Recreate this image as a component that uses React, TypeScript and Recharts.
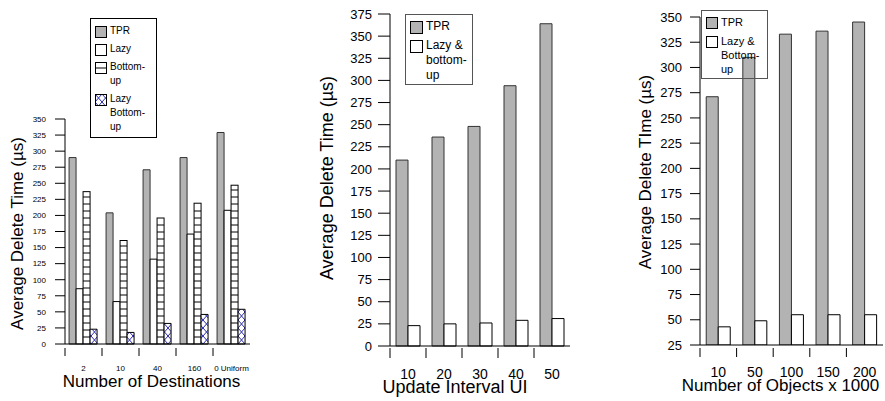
import { BarChart, Bar, XAxis, YAxis, Legend, Label } from "recharts";

const FONT = '"Liberation Sans", Arial, sans-serif';
const TPR_FILL = "#b3b3b3";

// left: number of destinations
const destinations = ["2", "10", "40", "160", "0 Uniform"];
const destTpr = [290, 204, 271, 290, 329];
const destLazy = [86, 66, 132, 171, 208];
const destBottomUp = [237, 161, 196, 219, 247];
const destLazyBottomUp = [23, 18, 32, 46, 54];
const destTicks = [0, 25, 50, 75, 100, 125, 150, 175, 200, 225, 250, 275, 300, 325, 350];

// middle: update interval
const intervals = ["10", "20", "30", "40", "50"];
const intervalTpr = [210, 236, 248, 294, 364];
const intervalLazyBu = [23, 25, 26, 29, 31];
const intervalTicks = [0, 25, 50, 75, 100, 125, 150, 175, 200, 225, 250, 275, 300, 325, 350, 375];

// right: number of objects
const objects = ["10", "50", "100", "150", "200"];
const objectTpr = [271, 310, 333, 336, 345];
const objectLazyBu = [43, 49, 55, 55, 55];
const objectTicks = [25, 50, 75, 100, 125, 150, 175, 200, 225, 250, 275, 300, 325, 350];

const destData = destinations.map((name, i) => ({
  name,
  tpr: destTpr[i],
  lazy: destLazy[i],
  bottomUp: destBottomUp[i],
  lazyBottomUp: destLazyBottomUp[i],
}));
const intervalData = intervals.map((name, i) => ({ name, tpr: intervalTpr[i], lazyBu: intervalLazyBu[i] }));
const objectData = objects.map((name, i) => ({ name, tpr: objectTpr[i], lazyBu: objectLazyBu[i] }));

const destOrder = ["tpr", "lazy", "bottomUp", "lazyBottomUp"];
const pairOrder = ["tpr", "lazyBu"];

function BoundaryTick(props: any) {
  const { x, y, payload, markTop, markBottom, labelDy, size } = props;
  const half = payload.offset ?? props.width / props.visibleTicksCount / 2;
  const left = x - half;
  return (
    <g>
      <line x1={left} x2={left} y1={y + markTop} y2={y + markBottom} stroke="#000" />
      <text x={x} y={y + labelDy} textAnchor="middle" fontSize={size} fill="#000">
        {payload.value}
      </text>
    </g>
  );
}

function LadderBar(props: any) {
  const { x, y, width, height } = props;
  const bottom = y + height;
  const rungs: number[] = [];
  for (let r = bottom - 7; r > y + 2; r -= 7) rungs.push(r);
  return (
    <g>
      <rect x={x} y={y} width={width} height={height} fill="#fff" stroke="#000" />
      {rungs.map((r) => (
        <line key={r} x1={x} x2={x + width} y1={r} y2={r} stroke="#000" />
      ))}
    </g>
  );
}

function LegendBox({ payload, order, box, size, lh, gap, sw }: any) {
  const items = [...(payload || [])].sort((a: any, b: any) => order.indexOf(a.dataKey) - order.indexOf(b.dataKey));
  return (
    <div
      style={{
        width: box.w,
        height: box.h,
        boxSizing: "border-box",
        border: `1px solid ${box.border}`,
        padding: `${box.pt}px 0 0 ${box.pl}px`,
        fontSize: size,
        lineHeight: `${lh}px`,
        color: "#000",
        fontFamily: FONT,
      }}
    >
      {items.map((e: any) => (
        <div key={e.value} style={{ display: "flex", alignItems: "flex-start", marginBottom: gap }}>
          <svg width={sw + 1} height={sw + 1} style={{ marginTop: (lh - sw) / 2, marginRight: 3, flex: "none" }}>
            <rect x={0.5} y={0.5} width={sw} height={sw} fill={e.color} stroke="#000" />
            {e.dataKey === "bottomUp" && <line x1={0.5} x2={sw + 0.5} y1={sw / 2 + 0.5} y2={sw / 2 + 0.5} stroke="#000" />}
          </svg>
          <div style={{ whiteSpace: "pre" }}>
            {String(e.value).replace(/-/g, "-\n").replace(/ (?!&)/g, "\n")}
          </div>
        </div>
      ))}
    </div>
  );
}

const axisStyle = { stroke: "#000" };

function DestinationsChart() {
  return (
    <BarChart
      width={260}
      height={401}
      data={destData}
      margin={{ top: 119, right: 10, left: 35, bottom: 12 }}
      barCategoryGap="11%"
      barGap={0}
    >
      <defs>
        <pattern id="xhatch" patternUnits="userSpaceOnUse" width={7} height={8}>
          <rect width={7} height={8} fill="#fff" />
          <path d="M0 0 L7 8 M7 0 L0 8" stroke="#2a2ab0" strokeWidth={1} />
        </pattern>
      </defs>
      <XAxis
        dataKey="name"
        height={45}
        axisLine={axisStyle}
        tickLine={false}
        tickSize={0}
        tickMargin={0}
        interval={0}
        tick={<BoundaryTick markTop={4} markBottom={12} labelDy={27} size={8} />}
      >
        <Label value="Number of Destinations" position="center" dx={-6} dy={14} fontSize={17} fill="#000" />
      </XAxis>
      <YAxis
        width={30}
        domain={[0, 350]}
        ticks={destTicks}
        interval={0}
        tickSize={10}
        tickMargin={9}
        axisLine={axisStyle}
        tickLine={axisStyle}
        tick={{ fontSize: 8, fill: "#000" }}
      >
        <Label value="Average Delete Time (µs)" angle={-90} position="center" dx={-33} dy={2} fontSize={17} fill="#000" />
      </YAxis>
      <Legend
        layout="vertical"
        align="center"
        verticalAlign="middle"
        wrapperStyle={{ left: 90, top: 18, width: 67 }}
        content={(p: any) => (
          <LegendBox
            payload={p.payload}
            order={destOrder}
            box={{ w: 67, h: 120, border: "#000", pt: 5, pl: 4 }}
            size={10}
            lh={14}
            gap={4}
            sw={11}
          />
        )}
      />
      <Bar dataKey="tpr" name="TPR" fill={TPR_FILL} stroke="#333" isAnimationActive={false} />
      <Bar dataKey="lazy" name="Lazy" fill="#fff" stroke="#000" isAnimationActive={false} />
      <Bar dataKey="bottomUp" name="Bottom-up" fill="#fff" stroke="#000" shape={<LadderBar />} isAnimationActive={false} />
      <Bar dataKey="lazyBottomUp" name="Lazy Bottom-up" fill="url(#xhatch)" stroke="#000" isAnimationActive={false} />
    </BarChart>
  );
}

function IntervalChart() {
  return (
    <BarChart
      width={290}
      height={401}
      data={intervalData}
      margin={{ top: 14, right: 10, left: 60, bottom: 15 }}
      barCategoryGap="16.7%"
      barGap={0}
    >
      <XAxis
        dataKey="name"
        height={40}
        axisLine={axisStyle}
        tickLine={false}
        tickSize={0}
        tickMargin={0}
        interval={0}
        tick={<BoundaryTick markTop={2} markBottom={12} labelDy={33} size={14} />}
      >
        <Label value="Update Interval UI" position="center" dx={-25} dy={21} fontSize={18} fill="#000" />
      </XAxis>
      <YAxis
        width={40}
        domain={[0, 375]}
        ticks={intervalTicks}
        interval={0}
        tickSize={12}
        tickMargin={6}
        axisLine={axisStyle}
        tickLine={axisStyle}
        tick={{ fontSize: 13, fill: "#000" }}
      >
        <Label value="Average Delete Time (µs)" angle={-90} position="center" dx={-43} dy={-2} fontSize={18} fill="#000" />
      </YAxis>
      <Legend
        layout="vertical"
        align="center"
        verticalAlign="middle"
        wrapperStyle={{ left: 115, top: 14, width: 68 }}
        content={(p: any) => (
          <LegendBox
            payload={p.payload}
            order={pairOrder}
            box={{ w: 68, h: 71, border: "#555", pt: 4, pl: 4 }}
            size={12}
            lh={15}
            gap={4}
            sw={12}
          />
        )}
      />
      <Bar dataKey="tpr" name="TPR" fill={TPR_FILL} stroke="#333" isAnimationActive={false} />
      <Bar dataKey="lazyBu" name="Lazy & bottom-up" fill="#fff" stroke="#000" isAnimationActive={false} />
    </BarChart>
  );
}

function ObjectsChart() {
  return (
    <BarChart
      width={295}
      height={401}
      data={objectData}
      margin={{ top: 17, right: 2, left: 70, bottom: 16 }}
      barCategoryGap="17%"
      barGap={0}
    >
      <XAxis
        dataKey="name"
        height={40}
        axisLine={axisStyle}
        tickLine={false}
        tickSize={0}
        tickMargin={0}
        interval={0}
        tick={<BoundaryTick markTop={3} markBottom={12} labelDy={32} size={14} />}
      >
        <Label value="Number of Objects x 1000" position="center" dx={-11} dy={20} fontSize={17} fill="#000" />
      </XAxis>
      <YAxis
        width={40}
        domain={[25, 350]}
        allowDataOverflow
        ticks={objectTicks}
        interval={0}
        tickSize={10}
        tickMargin={8}
        axisLine={axisStyle}
        tickLine={axisStyle}
        tick={{ fontSize: 13, fill: "#000" }}
      >
        <Label value="Average Delete TIme (µs)" angle={-90} position="center" dx={-35} dy={-9} fontSize={17} fill="#000" />
      </YAxis>
      <Legend
        layout="vertical"
        align="center"
        verticalAlign="middle"
        wrapperStyle={{ left: 111, top: 10, width: 67 }}
        content={(p: any) => (
          <LegendBox
            payload={p.payload}
            order={pairOrder}
            box={{ w: 67, h: 69, border: "#555", pt: 4, pl: 4 }}
            size={11}
            lh={14}
            gap={5}
            sw={11}
          />
        )}
      />
      <Bar dataKey="tpr" name="TPR" fill={TPR_FILL} stroke="#333" isAnimationActive={false} />
      <Bar dataKey="lazyBu" name="Lazy & Bottom-up" fill="#fff" stroke="#000" isAnimationActive={false} />
    </BarChart>
  );
}

export default function App() {
  return (
    <div
      style={{
        position: "absolute",
        left: 0,
        top: 0,
        width: 885,
        height: 401,
        background: "#fff",
        fontFamily: FONT,
      }}
    >
      <div style={{ position: "absolute", left: 0, top: 0 }}>
        <DestinationsChart />
      </div>
      <div style={{ position: "absolute", left: 290, top: 0 }}>
        <IntervalChart />
      </div>
      <div style={{ position: "absolute", left: 590, top: 0 }}>
        <ObjectsChart />
      </div>
    </div>
  );
}
